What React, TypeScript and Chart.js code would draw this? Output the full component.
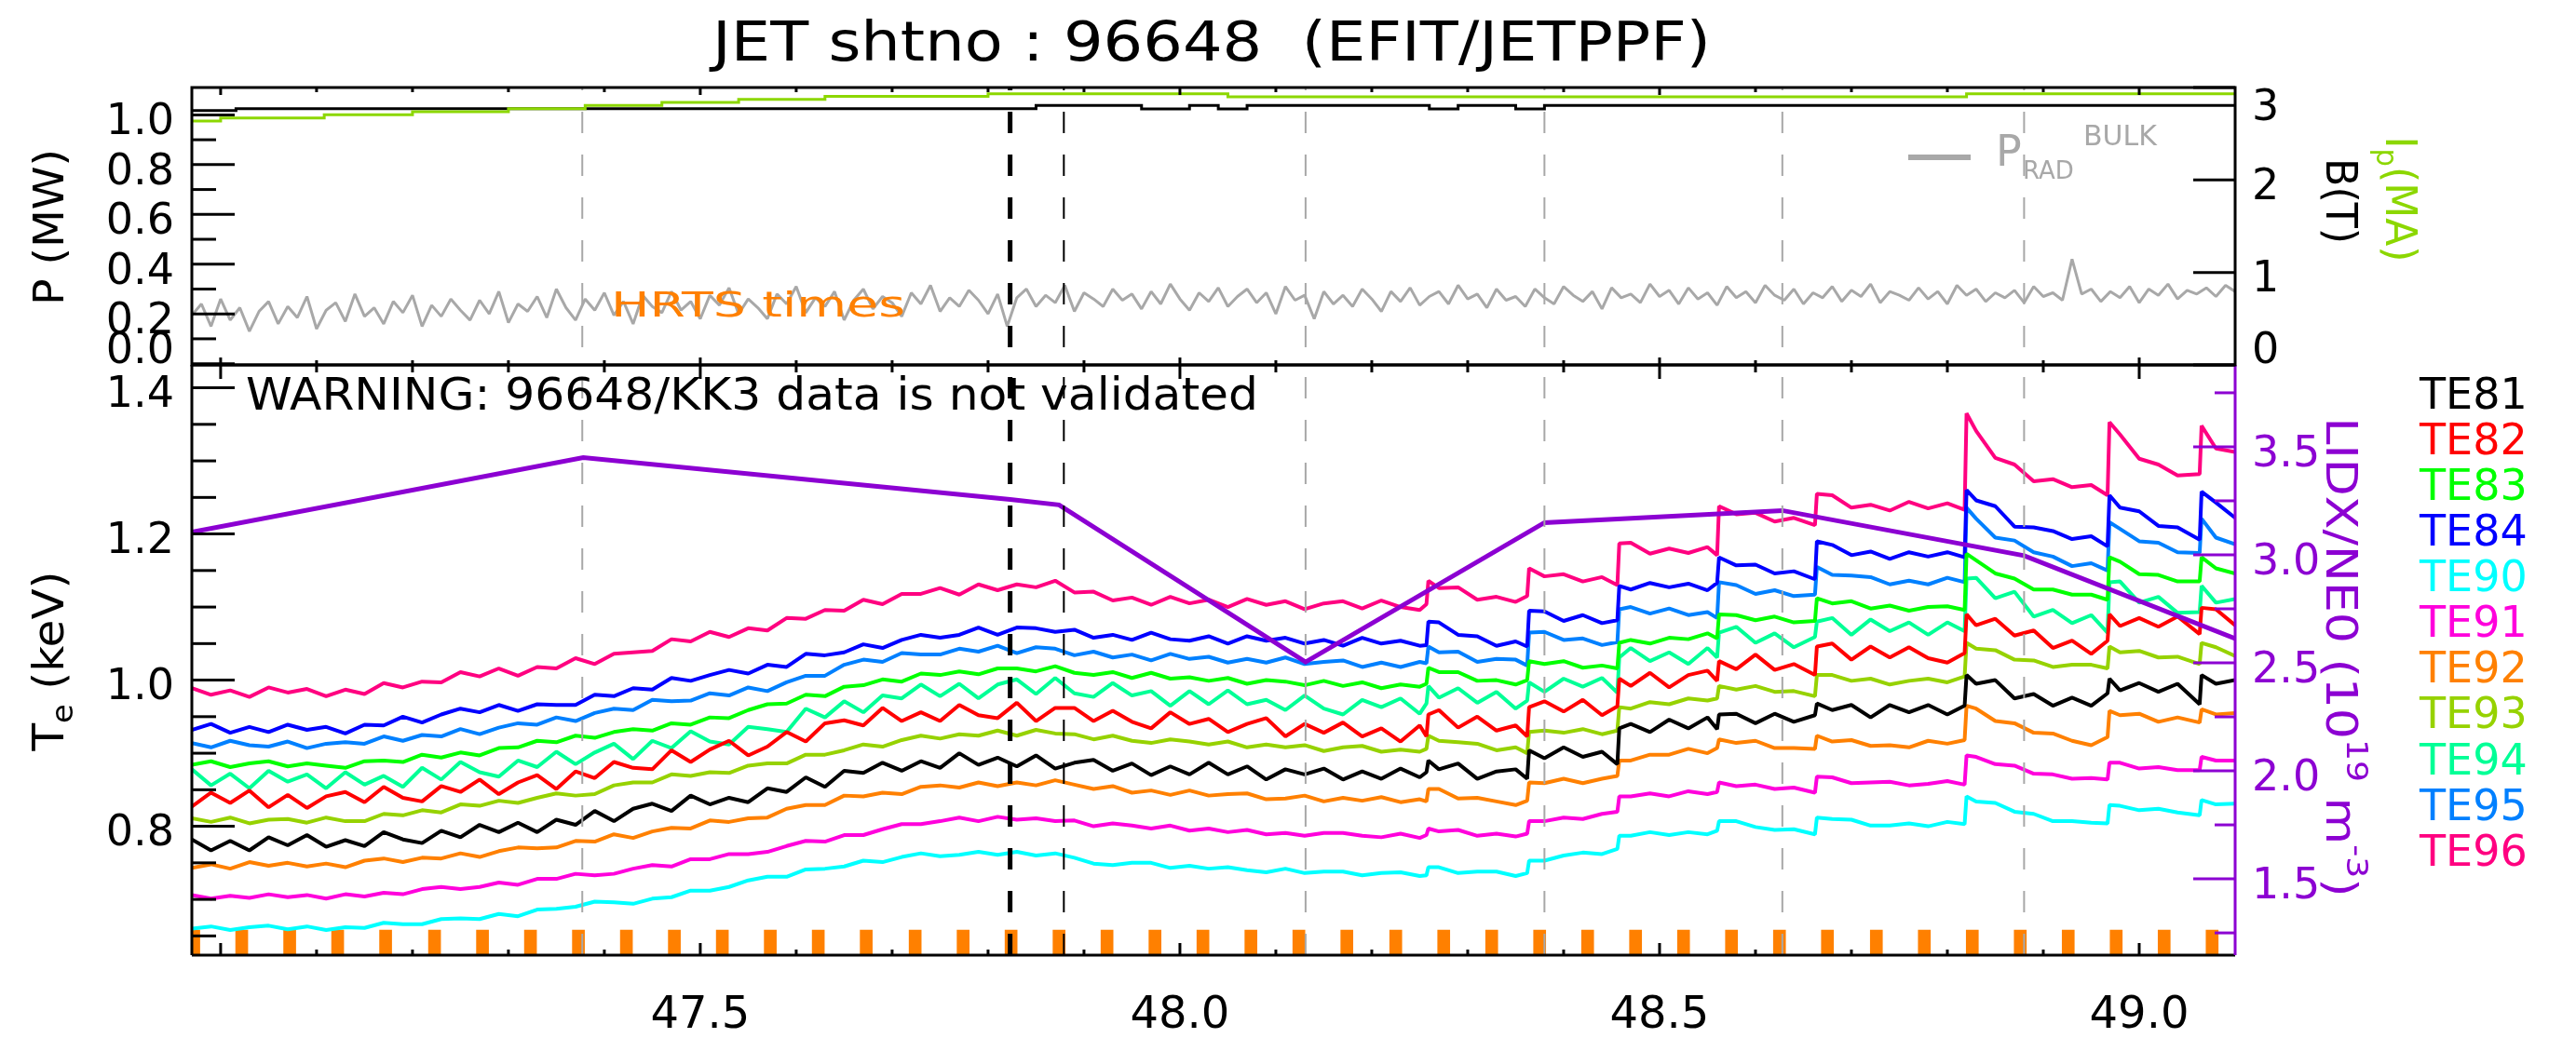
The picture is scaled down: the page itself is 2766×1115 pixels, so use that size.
import { useEffect, useRef } from 'react';
import Chart from 'chart.js/auto';

const FONT = '"DejaVu Sans", "Liberation Sans", sans-serif';
const CANVAS_W = 2766;
const CANVAS_H = 1115;

// frame of the two stacked panels, in canvas pixels
const PLOT_LEFT = 206;
const PLOT_RIGHT = 2400;
const UPPER_TOP = 94;
const SPLIT_Y = 392;
const LOWER_BOTTOM = 1026;

const PURPLE = '#8C00D2';
const ORANGE = '#FF8000';
const GREY = '#A8A8A8';
const IP_GREEN = '#8CD700';

// axis ranges
const T_RANGE = [46.97, 49.1];
const P_RANGE = [-0.005, 1.11];
const B_RANGE = [0, 3];
const TE_RANGE = [0.6237, 1.4313];
const NE_RANGE = [1.147, 3.879];

// ticks
const timeMajorTicks = [47.0, 47.5, 48.0, 48.5, 49.0];
const timeMinorTicks = [47.1, 47.2, 47.3, 47.4, 47.6, 47.7, 47.8, 47.9, 48.1, 48.2, 48.3, 48.4, 48.6, 48.7, 48.8, 48.9];
const timeTickLabels = ['', '47.5', '48.0', '48.5', '49.0'];
const powerMajorTicks = [0.0, 0.2, 0.4, 0.6, 0.8, 1.0];
const powerMinorTicks = [0.1, 0.3, 0.5, 0.7, 0.9];
const powerTickLabels = ['0.0', '0.2', '0.4', '0.6', '0.8', '1.0'];
const fieldTicks = [0, 1, 2, 3];
const fieldTickLabels = ['0', '1', '2', '3'];
const teMajorTicks = [0.8, 1.0, 1.2, 1.4];
const teMinorTicks = [0.65, 0.7, 0.75, 0.85, 0.9, 0.95, 1.05, 1.1, 1.15, 1.25, 1.3, 1.35];
const teTickLabels = ['0.8', '1.0', '1.2', '1.4'];
const neMajorTicks = [1.5, 2.0, 2.5, 3.0, 3.5];
const neMinorTicks = [1.25, 1.75, 2.25, 2.75, 3.25, 3.75];
const neTickLabels = ['1.5', '2.0', '2.5', '3.0', '3.5'];

// radiated power (bulk), kW, sampled every 10 ms from 46.97 s
const PRAD_T0 = 46.97;
const PRAD_DT = 0.01;
const pradBulkKW = [
  195, 240, 150, 260, 175, 225, 130, 210, 250, 160,
  230, 185, 270, 140, 215, 245, 170, 280, 190, 225,
  160, 250, 205, 275, 150, 235, 190, 260, 215, 175,
  255, 200, 290, 165, 240, 210, 270, 185, 300, 225,
  175, 260, 215, 285, 195, 250, 160, 275, 230, 205,
  290, 215, 250, 180, 275, 235, 305, 200, 260, 225,
  180, 280, 240, 310, 205, 265, 230, 290, 175, 255,
  300, 220, 270, 245, 190, 285, 240, 315, 210, 265,
  230, 295, 255, 200, 280, 150, 265, 300, 230, 275,
  245, 315, 210, 285, 260, 230, 300, 255, 280, 220,
  290, 240, 320, 260, 215, 285, 250, 305, 230, 270,
  300, 245, 285, 200, 310, 255, 275, 180, 290, 240,
  275, 230, 300, 260, 210, 290, 250, 305, 235, 270,
  290, 240, 315, 260, 280, 225, 300, 255, 270, 230,
  300, 265, 240, 310, 275, 250, 290, 220, 305, 265,
  280, 245, 320, 270, 295, 240, 305, 260, 285, 235,
  310, 265, 290, 245, 315, 275, 255, 300, 240, 285,
  265, 310, 250, 295, 270, 320, 245, 290, 275, 255,
  305, 260, 290, 240, 315, 275, 300, 250, 285, 265,
  295, 245, 310, 270, 285, 255, 420, 280, 300, 250,
  290, 265, 310, 245, 300, 275, 320, 260, 295, 280,
  305, 270, 315, 290,
];

// toroidal field (T) and plasma current (MA)
const bTimes = [46.97, 47.016, 47.016, 47.85, 47.85, 47.96, 47.96, 48.01, 48.01, 48.04, 48.04, 48.07, 48.07, 48.26, 48.26, 48.29, 48.29, 48.35, 48.35, 48.38, 48.38, 49.1];
const bValues = [2.75, 2.75, 2.77, 2.77, 2.806, 2.806, 2.768, 2.768, 2.806, 2.806, 2.768, 2.768, 2.806, 2.806, 2.768, 2.768, 2.806, 2.806, 2.768, 2.768, 2.806, 2.806];
const ipTimes = [46.97, 47.0, 47.0, 47.108, 47.108, 47.2, 47.2, 47.3, 47.3, 47.38, 47.38, 47.46, 47.46, 47.54, 47.54, 47.63, 47.63, 47.8, 47.8, 48.05, 48.05, 48.82, 48.82, 49.1];
const ipValues = [2.638, 2.638, 2.671, 2.671, 2.705, 2.705, 2.738, 2.738, 2.772, 2.772, 2.805, 2.805, 2.838, 2.838, 2.872, 2.872, 2.905, 2.905, 2.933, 2.933, 2.9, 2.9, 2.933, 2.933];

// ECE channel sample times (s)
const teTimes = [
  46.97, 46.99, 47.01, 47.03, 47.05, 47.07, 47.09, 47.11, 47.13, 47.15,
  47.17, 47.19, 47.21, 47.23, 47.25, 47.27, 47.29, 47.31, 47.33, 47.35,
  47.37, 47.39, 47.41, 47.43, 47.45, 47.47, 47.49, 47.51, 47.53, 47.55,
  47.57, 47.59, 47.61, 47.63, 47.65, 47.67, 47.69, 47.71, 47.73, 47.75,
  47.77, 47.79, 47.81, 47.83, 47.85, 47.87, 47.89, 47.91, 47.93, 47.95,
  47.97, 47.99, 48.01, 48.03, 48.05, 48.07, 48.09, 48.11, 48.13, 48.15,
  48.17, 48.19, 48.21, 48.23, 48.25,
  48.257, 48.259, 48.27, 48.29, 48.31, 48.33, 48.35, 48.362, 48.364, 48.38,
  48.4, 48.42, 48.44, 48.456, 48.458, 48.47, 48.49, 48.51, 48.53, 48.55,
  48.56, 48.562, 48.58, 48.6, 48.62, 48.64, 48.662, 48.664, 48.68, 48.7,
  48.72, 48.74, 48.76, 48.78, 48.8, 48.818, 48.82, 48.83, 48.85, 48.87,
  48.89, 48.91, 48.93, 48.95, 48.967, 48.969, 48.98, 49.0, 49.02, 49.04,
  49.063, 49.065, 49.08, 49.1,
];

// electron temperature per channel, eV
const te81 = [
  782, 767, 780, 767, 785, 774, 788, 772, 781, 773, 792, 782, 777, 794, 785, 802, 792, 805, 792, 809,
  802, 821, 807, 824, 831, 821, 842, 830, 839, 833, 852, 847, 867, 854, 876, 873, 887, 876, 889, 880,
  900, 884, 894, 882, 897, 879, 887, 891, 876, 886, 870, 882, 871, 887, 871, 882, 864, 878, 871, 879,
  864, 875, 865, 879, 867,
  874, 890, 878, 886, 865, 875, 878, 865, 904, 893, 908, 895, 902, 885, 934, 940, 929, 946, 934, 949,
  933, 953, 954, 941, 954, 943, 952, 968, 959, 966, 949, 966, 956, 966, 953, 965, 1007, 995, 1000, 975,
  981, 965, 976, 965, 982, 1002, 986, 996, 984, 995, 967, 1007, 995, 1000,
];
const te82 = [
  827, 846, 832, 849, 826, 843, 825, 841, 847, 833, 854, 839, 834, 855, 847, 864, 844, 860, 870, 851,
  875, 866, 888, 880, 878, 904, 888, 905, 917, 897, 909, 929, 916, 941, 945, 938, 962, 944, 956, 944,
  966, 952, 948, 969, 944, 962, 962, 944, 958, 943, 934, 956, 940, 947, 929, 940, 948, 923, 940, 928,
  942, 923, 934, 916, 938,
  923, 953, 959, 935, 950, 931, 938, 923, 963, 971, 957, 973, 952, 964, 1002, 992, 1010, 990, 1007, 1013,
  999, 1026, 1015, 1035, 1014, 1022, 1007, 1046, 1050, 1028, 1046, 1031, 1045, 1030, 1024, 1037, 1090, 1075, 1084, 1061,
  1068, 1044, 1054, 1036, 1054, 1090, 1074, 1085, 1073, 1087, 1063, 1099, 1097, 1075,
];
const te83 = [
  884, 889, 881, 886, 889, 882, 886, 883, 880, 889, 890, 888, 898, 894, 901, 897, 907, 908, 917, 915,
  924, 921, 929, 933, 931, 941, 939, 949, 948, 959, 967, 968, 980, 978, 991, 993, 1001, 998, 1009, 1007,
  1012, 1008, 1016, 1016, 1012, 1019, 1010, 1007, 1011, 1003, 1010, 1002, 1004, 999, 1003, 995, 1000, 998, 993, 999,
  992, 997, 989, 994, 991,
  995, 1017, 1011, 1011, 999, 1000, 994, 1000, 1026, 1022, 1026, 1017, 1020, 1016, 1051, 1055, 1050, 1058, 1056, 1064,
  1057, 1090, 1089, 1082, 1087, 1079, 1081, 1112, 1105, 1108, 1098, 1102, 1095, 1100, 1101, 1096, 1173, 1164, 1146, 1139,
  1124, 1124, 1117, 1117, 1110, 1168, 1162, 1145, 1144, 1135, 1135, 1168, 1153, 1146,
];
const te84 = [
  932, 940, 928, 936, 929, 939, 932, 936, 927, 939, 938, 950, 942, 953, 961, 956, 966, 958, 967, 966,
  966, 980, 978, 989, 987, 1003, 999, 1007, 1014, 1009, 1021, 1018, 1036, 1034, 1038, 1049, 1044, 1055, 1062, 1058,
  1062, 1072, 1062, 1072, 1071, 1066, 1069, 1058, 1062, 1055, 1065, 1056, 1054, 1060, 1050, 1060, 1054, 1058, 1050, 1055,
  1047, 1058, 1050, 1054, 1047,
  1048, 1080, 1079, 1062, 1060, 1047, 1053, 1046, 1095, 1094, 1081, 1089, 1078, 1082, 1129, 1124, 1133, 1127, 1132, 1123,
  1133, 1168, 1157, 1158, 1146, 1149, 1138, 1190, 1185, 1171, 1176, 1166, 1175, 1169, 1175, 1168, 1260, 1246, 1238, 1210,
  1209, 1204, 1193, 1197, 1183, 1253, 1236, 1231, 1211, 1209, 1192, 1258, 1243, 1222,
];
const te90 = [
  660, 663, 658, 662, 664, 659, 663, 658, 662, 661, 668, 666, 666, 673, 674, 673, 680, 677, 686, 687,
  690, 697, 696, 694, 701, 703, 712, 712, 717, 726, 731, 731, 741, 742, 745, 753, 751, 758, 763, 759,
  761, 765, 761, 765, 760, 763, 757, 749, 747, 750, 750, 743, 746, 742, 744, 740, 737, 742, 736, 738,
  738, 733, 736, 737, 732,
  733, 744, 744, 736, 738, 738, 732, 736, 753, 753, 760, 764, 762, 769, 787, 787, 792, 788, 792, 789,
  794, 807, 807, 799, 795, 796, 789, 812, 810, 809, 801, 801, 804, 800, 806, 803, 841, 834, 832, 820,
  817, 807, 807, 805, 804, 829, 828, 822, 824, 819, 815, 836, 830, 831,
];
const te91 = [
  706, 701, 705, 702, 707, 703, 706, 701, 707, 704, 709, 707, 714, 717, 714, 717, 723, 720, 728, 728,
  735, 733, 735, 742, 747, 745, 755, 755, 762, 762, 765, 773, 780, 779, 788, 788, 796, 803, 803, 807,
  812, 807, 813, 809, 811, 807, 808, 800, 804, 801, 797, 801, 794, 797, 792, 795, 789, 791, 787, 791,
  791, 787, 785, 790, 784,
  788, 797, 793, 795, 787, 790, 786, 790, 807, 807, 812, 810, 817, 820, 841, 841, 845, 841, 848, 844,
  847, 860, 855, 857, 851, 853, 846, 868, 867, 859, 860, 861, 856, 858, 862, 857, 897, 895, 885, 883,
  872, 871, 865, 866, 864, 887, 887, 879, 881, 877, 877, 895, 890, 890,
];
const te92 = [
  743, 748, 742, 751, 746, 750, 745, 749, 744, 753, 756, 751, 757, 756, 763, 758, 766, 771, 770, 771,
  780, 779, 789, 784, 793, 798, 797, 808, 806, 811, 812, 824, 829, 829, 842, 841, 846, 844, 854, 856,
  853, 860, 855, 860, 856, 863, 857, 851, 855, 846, 849, 843, 849, 842, 844, 845, 837, 838, 842, 834,
  839, 835, 840, 833, 837,
  834, 851, 851, 838, 839, 834, 829, 835, 860, 859, 865, 859, 865, 869, 890, 890, 898, 898, 906, 900,
  907, 919, 914, 917, 907, 907, 906, 924, 916, 918, 910, 911, 908, 917, 913, 918, 965, 961, 944, 941,
  928, 927, 917, 911, 922, 958, 952, 954, 943, 949, 942, 960, 953, 955,
];
const te93 = [
  811, 806, 812, 804, 809, 810, 805, 812, 807, 807, 817, 815, 822, 819, 830, 828, 835, 832, 839, 845,
  842, 844, 856, 860, 860, 871, 869, 874, 873, 883, 886, 886, 898, 898, 904, 912, 909, 918, 924, 920,
  926, 924, 931, 924, 932, 927, 926, 919, 924, 917, 914, 919, 916, 912, 916, 908, 912, 908, 911, 903,
  908, 910, 902, 905, 902,
  906, 924, 917, 915, 913, 904, 908, 900, 929, 931, 928, 933, 926, 931, 963, 961, 970, 967, 975, 972,
  975, 992, 987, 992, 984, 985, 978, 1007, 1007, 999, 1002, 994, 999, 1002, 997, 1005, 1051, 1043, 1041, 1028,
  1027, 1018, 1021, 1021, 1016, 1046, 1038, 1040, 1031, 1032, 1022, 1051, 1045, 1033,
];
const te94 = [
  878, 856, 872, 852, 876, 861, 871, 852, 874, 857, 869, 854, 880, 864, 888, 874, 868, 890, 881, 902,
  885, 901, 913, 892, 917, 907, 930, 916, 912, 936, 933, 929, 961, 949, 971, 956, 979, 975, 994, 978,
  995, 975, 994, 1001, 981, 1003, 982, 977, 996, 979, 985, 965, 985, 967, 986, 967, 973, 959, 979, 961,
  953, 973, 963, 975, 954,
  968, 992, 976, 989, 969, 984, 961, 972, 997, 984, 1002, 991, 1003, 983, 1031, 1044, 1026, 1038, 1022, 1044,
  1031, 1065, 1073, 1051, 1064, 1045, 1059, 1080, 1085, 1062, 1083, 1067, 1079, 1062, 1079, 1067, 1139, 1140, 1112, 1121,
  1087, 1096, 1078, 1089, 1065, 1134, 1135, 1106, 1114, 1092, 1093, 1129, 1106, 1111,
];
const te95 = [
  914, 908, 917, 911, 909, 916, 907, 913, 915, 913, 923, 917, 925, 923, 933, 926, 935, 941, 939, 949,
  944, 955, 961, 959, 973, 971, 972, 982, 979, 990, 985, 997, 1006, 1006, 1021, 1028, 1025, 1037, 1035, 1035,
  1043, 1039, 1047, 1037, 1045, 1043, 1034, 1039, 1031, 1035, 1027, 1036, 1029, 1032, 1024, 1029, 1024, 1031, 1022, 1025,
  1027, 1018, 1024, 1018, 1025,
  1023, 1046, 1038, 1039, 1025, 1029, 1028, 1020, 1065, 1066, 1055, 1057, 1048, 1052, 1097, 1100, 1091, 1098, 1089, 1093,
  1085, 1134, 1130, 1118, 1123, 1115, 1117, 1155, 1144, 1143, 1141, 1131, 1136, 1131, 1140, 1134, 1236, 1221, 1195, 1191,
  1175, 1169, 1156, 1160, 1150, 1216, 1207, 1190, 1188, 1175, 1174, 1221, 1195, 1186,
];
const te96 = [
  989, 980, 986, 977, 990, 983, 988, 978, 987, 981, 996, 990, 998, 997, 1011, 1005, 1016, 1006, 1018, 1016,
  1030, 1022, 1036, 1038, 1040, 1056, 1053, 1066, 1059, 1071, 1068, 1085, 1084, 1096, 1095, 1110, 1104, 1118, 1118, 1126,
  1117, 1131, 1123, 1131, 1127, 1136, 1120, 1121, 1109, 1113, 1103, 1114, 1105, 1110, 1100, 1111, 1103, 1108, 1097, 1105,
  1108, 1098, 1109, 1100, 1096,
  1104, 1136, 1126, 1127, 1110, 1114, 1107, 1115, 1153, 1142, 1145, 1135, 1141, 1130, 1187, 1188, 1173, 1180, 1174, 1182,
  1171, 1238, 1227, 1229, 1217, 1222, 1212, 1255, 1253, 1236, 1240, 1232, 1244, 1235, 1242, 1233, 1365, 1341, 1304, 1295,
  1272, 1275, 1264, 1267, 1253, 1353, 1336, 1303, 1295, 1280, 1282, 1348, 1317, 1312,
];

const channelNames = ['TE81', 'TE82', 'TE83', 'TE84', 'TE90', 'TE91', 'TE92', 'TE93', 'TE94', 'TE95', 'TE96'];
const channelColors = ['#000000', '#FF0000', '#00FF00', '#0000FF', '#00FFFF', '#FF00DC', '#FF8000', '#96D200', '#00FF96', '#0080FF', '#FF0080'];
const channelValues = [te81, te82, te83, te84, te90, te91, te92, te93, te94, te95, te96];

// line-integrated / central density, 1e19 m^-3
const lidxTimes = [46.97, 47.378, 47.823, 47.874, 48.131, 48.38, 48.628, 48.88, 49.1];
const lidxValues = [3.105, 3.45, 3.256, 3.231, 2.504, 3.149, 3.205, 2.996, 2.612];

// HRTS laser times (s)
const hrtsTimes = [
  46.972, 47.022, 47.072, 47.122, 47.172, 47.223, 47.273, 47.323, 47.373, 47.423,
  47.473, 47.523, 47.573, 47.623, 47.673, 47.724, 47.774, 47.824, 47.874, 47.924,
  47.974, 48.024, 48.074, 48.124, 48.174, 48.225, 48.275, 48.325, 48.375, 48.425,
  48.475, 48.525, 48.575, 48.625, 48.675, 48.726, 48.776, 48.826, 48.876, 48.926,
  48.976, 49.026, 49.076,
];
const HRTS_MARK_TOP = 0.658;

// vertical time markers
const markerTimes = [47.377, 47.823, 47.879, 48.131, 48.38, 48.628, 48.88];
const markerKinds = ['grey', 'bold', 'thin', 'grey', 'grey', 'grey', 'grey'];
const MARKER_STYLE: Record<string, { color: string; width: number }> = {
  grey: { color: GREY, width: 2 },
  bold: { color: '#000000', width: 5 },
  thin: { color: '#000000', width: 2 },
};

type Part = { t: string; size: number; dy?: number };

function seg(ctx: CanvasRenderingContext2D, x1: number, y1: number, x2: number, y2: number) {
  ctx.beginPath();
  ctx.moveTo(x1, y1);
  ctx.lineTo(x2, y2);
  ctx.stroke();
}

function textFit(ctx: CanvasRenderingContext2D, str: string, x: number, baseline: number, size: number, color: string, width?: number) {
  ctx.save();
  ctx.font = `${size}px ${FONT}`;
  ctx.fillStyle = color;
  ctx.textAlign = 'left';
  ctx.textBaseline = 'alphabetic';
  const w = ctx.measureText(str).width;
  ctx.translate(x, baseline);
  if (width) ctx.scale(width / w, 1);
  ctx.fillText(str, 0, 0);
  ctx.restore();
}

function richText(ctx: CanvasRenderingContext2D, parts: Part[], cx: number, cy: number, angle: number, color: string, length?: number) {
  ctx.save();
  ctx.translate(cx, cy);
  ctx.rotate(angle);
  const widths: number[] = [];
  let total = 0;
  for (const p of parts) {
    ctx.font = `${p.size}px ${FONT}`;
    const m = ctx.measureText(p.t).width;
    widths.push(m);
    total += m;
  }
  if (length) ctx.scale(length / total, 1);
  ctx.fillStyle = color;
  ctx.textAlign = 'left';
  ctx.textBaseline = 'alphabetic';
  let x = -total / 2;
  parts.forEach((p, i) => {
    ctx.font = `${p.size}px ${FONT}`;
    ctx.fillText(p.t, x, p.dy || 0);
    x += widths[i];
  });
  ctx.restore();
}

function timeTicks(ctx: CanvasRenderingContext2D, xs: any, y: number, dir: number, majorLen: number, minorLen: number) {
  for (const t of timeMajorTicks) {
    const px = xs.getPixelForValue(t);
    seg(ctx, px, y, px, y + dir * majorLen);
  }
  for (const t of timeMinorTicks) {
    const px = xs.getPixelForValue(t);
    seg(ctx, px, y, px, y + dir * minorLen);
  }
}

function valueTicks(ctx: CanvasRenderingContext2D, ys: any, a: any, x: number, dir: number, values: number[], len: number) {
  for (const v of values) {
    const py = ys.getPixelForValue(v);
    if (py < a.top - 1 || py > a.bottom + 1) continue;
    seg(ctx, x, py, x + dir * len, py);
  }
}

function valueLabels(ctx: CanvasRenderingContext2D, ys: any, a: any, values: number[], labels: string[], x: number, align: CanvasTextAlign, color: string) {
  const size = 46;
  const cap = size * 0.729;
  ctx.font = `${size}px ${FONT}`;
  ctx.fillStyle = color;
  ctx.textAlign = align;
  ctx.textBaseline = 'alphabetic';
  values.forEach((v, i) => {
    if (!labels[i]) return;
    let c = ys.getPixelForValue(v) + 4;
    c = Math.max(c, a.top + cap / 2 + 1);
    c = Math.min(c, a.bottom - cap / 2 - 2);
    ctx.fillText(labels[i], x, c + cap / 2);
  });
}

const upperFrame = {
  id: 'upperFrame',
  afterDraw(chart: any) {
    const { ctx, chartArea: a } = chart;
    const xs = chart.scales.x;
    const yP = chart.scales.yP;
    const yB = chart.scales.yB;
    ctx.save();
    ctx.strokeStyle = '#000';
    ctx.lineWidth = 3;
    ctx.lineCap = 'butt';
    ctx.strokeRect(a.left, a.top, a.right - a.left, a.bottom - a.top);
    timeTicks(ctx, xs, a.top, 1, 8, 5);
    timeTicks(ctx, xs, a.bottom, -1, 8, 5);
    valueTicks(ctx, yP, a, a.left, 1, powerMajorTicks, 46);
    valueTicks(ctx, yP, a, a.left, 1, powerMinorTicks, 26);
    valueTicks(ctx, yB, a, a.right, -1, fieldTicks, 45);
    valueLabels(ctx, yP, a, powerMajorTicks, powerTickLabels, a.left - 19, 'right', '#000');
    valueLabels(ctx, yB, a, fieldTicks, fieldTickLabels, a.right + 18, 'left', '#000');

    textFit(ctx, 'JET shtno : 96648  (EFIT/JETPPF)', 765, 65, 59, '#000', 1072);
    richText(ctx, [{ t: 'P (MW)', size: 44 }], 68, 244, -Math.PI / 2, '#000', 168);
    richText(ctx, [{ t: 'B(T)', size: 46 }], 2498, 216, Math.PI / 2, '#000', 92);
    richText(ctx, [{ t: 'I', size: 46 }, { t: 'p', size: 32, dy: 10 }, { t: '(MA)', size: 46 }], 2562, 214, Math.PI / 2, IP_GREEN, 135);

    // radiated power key
    ctx.strokeStyle = GREY;
    ctx.lineWidth = 6;
    seg(ctx, 2049, 169, 2116, 169);
    ctx.fillStyle = GREY;
    ctx.textAlign = 'left';
    ctx.textBaseline = 'alphabetic';
    ctx.font = `46px ${FONT}`;
    ctx.fillText('P', 2143, 178);
    ctx.font = `26px ${FONT}`;
    ctx.fillText('RAD', 2172, 192);
    ctx.font = `30px ${FONT}`;
    ctx.fillText('BULK', 2237, 156);

    textFit(ctx, 'HRTS times', 656, 340, 38, ORANGE, 316);
    ctx.restore();
  },
};

const lowerFrame = {
  id: 'lowerFrame',
  afterDraw(chart: any) {
    const { ctx, chartArea: a } = chart;
    const xs = chart.scales.x;
    const yT = chart.scales.yT;
    const yN = chart.scales.yN;
    ctx.save();
    ctx.lineCap = 'butt';
    ctx.lineWidth = 3;
    ctx.strokeStyle = '#000';
    seg(ctx, a.right, a.top, a.left, a.top);
    seg(ctx, a.left, a.top, a.left, a.bottom);
    seg(ctx, a.left, a.bottom, a.right, a.bottom);
    timeTicks(ctx, xs, a.top, 1, 15, 8);
    timeTicks(ctx, xs, a.bottom, -1, 13, 6);
    valueTicks(ctx, yT, a, a.left, 1, teMajorTicks, 46);
    valueTicks(ctx, yT, a, a.left, 1, teMinorTicks, 26);
    valueLabels(ctx, yT, a, teMajorTicks, teTickLabels, a.left - 19, 'right', '#000');

    ctx.strokeStyle = PURPLE;
    seg(ctx, a.right, a.top, a.right, a.bottom);
    valueTicks(ctx, yN, a, a.right, -1, neMajorTicks, 45);
    valueTicks(ctx, yN, a, a.right, -1, neMinorTicks, 22);
    valueLabels(ctx, yN, a, neMajorTicks, neTickLabels, a.right + 18, 'left', PURPLE);

    // time labels
    ctx.fillStyle = '#000';
    ctx.font = `48px ${FONT}`;
    ctx.textAlign = 'center';
    timeMajorTicks.forEach((t, i) => {
      if (!timeTickLabels[i]) return;
      ctx.fillText(timeTickLabels[i], xs.getPixelForValue(t), 1104);
    });

    textFit(ctx, 'WARNING: 96648/KK3 data is not validated', 264, 440, 48, '#000', 1087);
    richText(ctx, [{ t: 'T', size: 46 }, { t: 'e', size: 32, dy: 10 }, { t: ' (keV)', size: 46 }], 68, 710, -Math.PI / 2, '#000', 193);
    richText(
      ctx,
      [
        { t: 'LIDX/NE0 (10', size: 46 },
        { t: '19', size: 32, dy: -22 },
        { t: ' m', size: 46 },
        { t: '-3', size: 32, dy: -22 },
        { t: ')', size: 46 },
      ],
      2498, 706, Math.PI / 2, PURPLE, 515,
    );

    // channel key
    ctx.font = `46px ${FONT}`;
    ctx.textAlign = 'left';
    channelNames.forEach((n, i) => {
      ctx.fillStyle = channelColors[i];
      ctx.fillText(n, 2598, 439 + 49.07 * i);
    });
    ctx.restore();
  },
};

function markerSets(yAxisID: string, lo: number, hi: number, dashOffset: number) {
  return markerTimes.map((t, i) => {
    const s = MARKER_STYLE[markerKinds[i]];
    return {
      type: 'line',
      data: [{ x: t, y: lo }, { x: t, y: hi }],
      yAxisID,
      borderColor: s.color,
      borderWidth: s.width,
      borderDash: [23, 23],
      borderDashOffset: dashOffset,
      pointRadius: 0,
      order: 0,
    };
  });
}

const baseOptions = (padding: any, scales: any) => ({
  responsive: false,
  animation: false,
  devicePixelRatio: 1,
  events: [],
  layout: { padding },
  plugins: { legend: { display: false }, tooltip: { enabled: false }, title: { display: false } },
  elements: { point: { radius: 0 }, line: { tension: 0 } },
  scales,
});

export default function App() {
  const upperRef = useRef<HTMLCanvasElement>(null);
  const lowerRef = useRef<HTMLCanvasElement>(null);

  useEffect(() => {
    const upper = new Chart(upperRef.current as HTMLCanvasElement, {
      type: 'line',
      data: {
        datasets: [
          ...markerSets('yP', P_RANGE[0], P_RANGE[1], 27),
          {
            type: 'line',
            data: ipTimes.map((t, i) => ({ x: t, y: ipValues[i] })),
            yAxisID: 'yB',
            borderColor: IP_GREEN,
            borderWidth: 3,
            pointRadius: 0,
            order: 2,
          },
          {
            type: 'line',
            data: bTimes.map((t, i) => ({ x: t, y: bValues[i] })),
            yAxisID: 'yB',
            borderColor: '#000000',
            borderWidth: 3,
            pointRadius: 0,
            order: 2,
          },
          {
            type: 'line',
            data: pradBulkKW.map((v, i) => ({ x: PRAD_T0 + i * PRAD_DT, y: v / 1000 })),
            yAxisID: 'yP',
            borderColor: GREY,
            borderWidth: 3,
            borderJoinStyle: 'bevel',
            pointRadius: 0,
            order: 3,
          },
        ],
      } as any,
      options: baseOptions(
        { left: PLOT_LEFT, right: CANVAS_W - PLOT_RIGHT, top: UPPER_TOP, bottom: CANVAS_H - SPLIT_Y },
        {
          x: { type: 'linear', min: T_RANGE[0], max: T_RANGE[1], display: false, offset: false },
          yP: { type: 'linear', position: 'left', min: P_RANGE[0], max: P_RANGE[1], display: false },
          yB: { type: 'linear', position: 'right', min: B_RANGE[0], max: B_RANGE[1], display: false },
        },
      ) as any,
      plugins: [upperFrame],
    });

    const lower = new Chart(lowerRef.current as HTMLCanvasElement, {
      type: 'line',
      data: {
        datasets: [
          ...markerSets('yT', TE_RANGE[0], TE_RANGE[1], 0),
          {
            type: 'line',
            data: lidxTimes.map((t, i) => ({ x: t, y: lidxValues[i] })),
            yAxisID: 'yN',
            borderColor: PURPLE,
            borderWidth: 5,
            pointRadius: 0,
            order: 1,
          },
          ...channelValues.map((vals, c) => ({
            type: 'line',
            label: channelNames[c],
            data: vals.map((v, i) => ({ x: teTimes[i], y: v / 1000 })),
            yAxisID: 'yT',
            borderColor: channelColors[c],
            borderWidth: 4,
            borderJoinStyle: 'bevel',
            pointRadius: 0,
            order: 2,
          })),
          {
            type: 'bar',
            data: hrtsTimes.map((t) => ({ x: t, y: [TE_RANGE[0], HRTS_MARK_TOP] })),
            yAxisID: 'yT',
            backgroundColor: ORANGE,
            borderWidth: 0,
            barThickness: 13,
            grouped: false,
            order: 5,
          },
        ],
      } as any,
      options: baseOptions(
        { left: PLOT_LEFT, right: CANVAS_W - PLOT_RIGHT, top: SPLIT_Y, bottom: CANVAS_H - LOWER_BOTTOM },
        {
          x: { type: 'linear', min: T_RANGE[0], max: T_RANGE[1], display: false, offset: false },
          yT: { type: 'linear', position: 'left', min: TE_RANGE[0], max: TE_RANGE[1], display: false },
          yN: { type: 'linear', position: 'right', min: NE_RANGE[0], max: NE_RANGE[1], display: false },
        },
      ) as any,
      plugins: [lowerFrame],
    });

    return () => {
      upper.destroy();
      lower.destroy();
    };
  }, []);

  const canvasStyle: any = { position: 'absolute', left: 0, top: 0, width: CANVAS_W, height: CANVAS_H };
  return (
    <div style={{ position: 'absolute', left: 0, top: 0, width: CANVAS_W, height: CANVAS_H, background: '#ffffff', overflow: 'hidden' }}>
      <canvas ref={lowerRef} width={CANVAS_W} height={CANVAS_H} style={canvasStyle} />
      <canvas ref={upperRef} width={CANVAS_W} height={CANVAS_H} style={canvasStyle} />
    </div>
  );
}
